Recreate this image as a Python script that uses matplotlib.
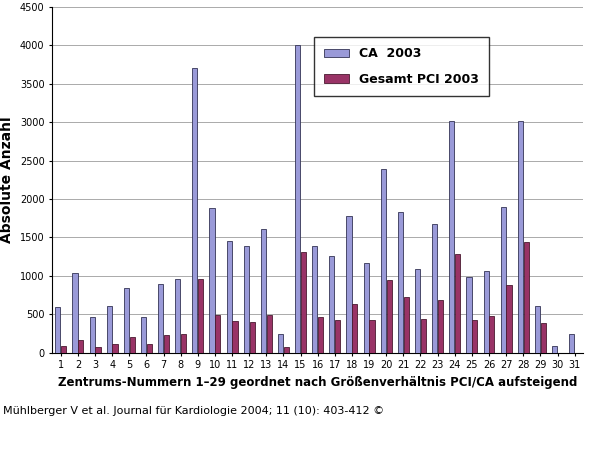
import matplotlib.pyplot as plt
import numpy as np

centres = list(range(1, 32))
ca_2003 = [600, 1040, 470, 610, 840, 470, 900, 960, 3700, 1880, 1460, 1390, 1610, 250,
           4000, 1390, 1260, 1780, 1170, 2390, 1830, 1090, 1680, 3020, 990, 1060, 1900,
           3020, 610, 90, 250]
pci_2003 = [90, 170, 70, 120, 200, 110, 230, 250, 960, 490, 410, 400, 490, 70,
            1310, 470, 430, 640, 430, 950, 720, 440, 690, 1280, 430, 480, 880,
            1440, 390, 0, 0]

fig = plt.figure(figsize=(6, 4.57), dpi=100)
ax = fig.add_axes([0.087, 0.228, 0.885, 0.757])

x = np.array(centres)
w = 0.3
ax.bar(x - 0.17, ca_2003, w, color="#9a9ad8", edgecolor="#333355", linewidth=0.6,
       label="CA  2003", zorder=3)
ax.bar(x + 0.17, pci_2003, w, color="#993366", edgecolor="#4a1a30", linewidth=0.6,
       label="Gesamt PCI 2003", zorder=3)

ax.set_xlim(0.5, 31.5)
ax.set_ylim(0, 4500)
ax.set_yticks(range(0, 4501, 500))
ax.set_xticks(centres)
ax.tick_params(labelsize=7, length=2)
ax.yaxis.grid(True, color="#aaaaaa", linewidth=0.7, zorder=0)
ax.set_axisbelow(True)
for s in ["top", "right"]:
    ax.spines[s].set_visible(False)

ax.set_ylabel("Absolute Anzahl", fontsize=10, fontweight="bold")
ax.set_xlabel("Zentrums-Nummern 1\u201329 geordnet nach Größenverhältnis PCI/CA aufsteigend",
              fontsize=8.5, fontweight="bold")

leg = ax.legend(loc="upper right", bbox_to_anchor=(0.835, 0.93),
                prop={"weight": "bold", "size": 9}, frameon=True, fancybox=False,
                edgecolor="black", borderpad=0.8, labelspacing=1.0)
leg.get_frame().set_linewidth(1.0)

fig.text(0.005, 0.095, "Mühlberger V et al. Journal für Kardiologie 2004; 11 (10): 403-412 \u00a9",
         fontsize=8)

fig.savefig("out.png", dpi=100)
